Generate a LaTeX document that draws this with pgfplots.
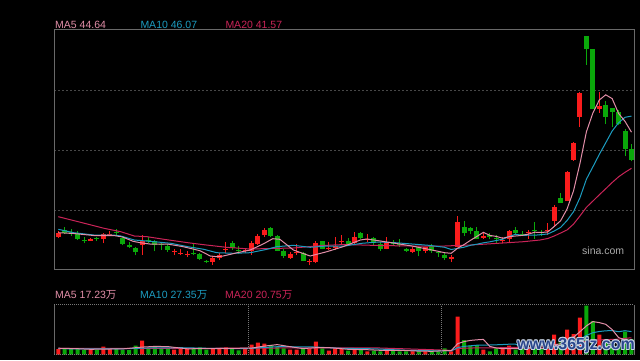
\documentclass[border=0pt]{standalone}
\usepackage{pgfplots}
\pgfplotsset{compat=1.18}
\usepackage{pgfplotstable}
\usepackage{fontspec}
\setmainfont{Liberation Sans}
\newfontfamily\cjk{Noto Sans CJK SC}
\definecolor{cred}{RGB}{250,28,28}
\definecolor{cgreen}{RGB}{10,168,10}
\definecolor{mafive}{RGB}{226,142,168}
\definecolor{maten}{RGB}{28,156,192}
\definecolor{matwenty}{RGB}{202,36,88}
\definecolor{framec}{RGB}{105,105,105}
\definecolor{gridc}{RGB}{72,72,72}
\definecolor{dotc}{RGB}{120,120,120}
\definecolor{wmblue}{RGB}{42,70,140}
\definecolor{wmlight}{RGB}{200,212,228}

% candles: i open high low close (pixel heights above the frame bottom)
\pgfplotstableread{
i o h l c
0 32.3 38 31 36.3
5 28.5 31.5 28 30.5
7 30.3 36.3 25.7 35
8 34.3 37.7 33 35.3
13 23.7 33.7 14.3 28.3
18 17.7 20.3 13.7 18.3
19 15.7 19.7 13.7 16.3
20 14.3 17.7 11.7 15
24 7 12.7 4.3 11.3
25 10.7 15.7 9 13.7
26 19.3 27 16.3 20
29 18 21 15.7 19
30 18 27.7 14 26
31 25.3 35 24 33
32 33.7 41 32.3 39
36 11 16.7 10.3 15.3
37 15.7 25 14.3 17.5
39 7.7 10.3 3.7 8.3
40 7 27.7 5.7 26.3
42 20 26.7 19 21
43 21 31.7 19 23
44 27.3 34.3 23.7 28
46 25.7 37 24.3 32.3
48 29 35 27 30.3
51 20.3 31.7 19.7 26.3
55 17.3 21.7 15.7 19.7
57 18.3 22.3 15.7 21.7
61 10.3 13.7 7 12.3
62 22.3 53 21.7 47
66 31.3 37 30.3 32.7
69 28 32.3 25.7 28.7
70 30.3 39 26.3 37.7
73 36.7 39 30.3 37.3
76 37.7 45.7 34 39.3
77 48.3 63.7 42.3 61.7
79 67.7 98.3 67.7 97.3
80 109 127 108.3 126.3
81 152.3 177.3 142.3 176.3
84 160.3 177.3 156.3 163
}\redK
\pgfplotstableread{
i o h l c
1 39 41.7 35.5 36.3
2 37 40.5 33 35
3 35 38.3 29 30.3
4 29.3 31.7 25.7 28.7
6 31 32.3 28.3 30.3
9 37 40.3 33.7 36.3
10 31 32.3 23.7 25
11 24.3 27 21 21.7
12 21 21.7 13.7 17
14 28.7 32.3 25.7 28
15 28.3 29 17.7 24.3
16 24.7 25.7 19 24
17 23.3 25 17 19.3
21 16.3 25.7 13.7 15.7
22 15 16.3 9 10.3
23 7.7 9 5.7 6.7
27 26 27.7 19 21.3
28 19.3 23 15 18.7
33 41 42 32 33
34 33 34 18 18.3
35 18.3 19.7 11 13
38 16 17 7.7 8.3
41 27.7 28.3 19.7 20.3
45 27.7 31 23.7 25
47 36.3 37 30.3 31
49 31 32.3 24.3 25.7
50 25.3 27 18.3 19.7
52 26 29 23 24.7
53 25.3 30.3 22.3 24.3
54 20.3 21.3 17.3 18.3
56 22.3 22.3 12.7 18.3
58 22.7 25 16.3 17.7
59 16.7 18.3 12.3 16
60 14.3 16.3 9 11
63 42.3 47.7 33 35.7
64 41 42.3 35 37.7
65 37.7 41.7 29.7 30.3
67 34.3 36.3 29.7 31.7
68 31.3 33.7 25.7 30.7
71 39 41.7 35 36.3
72 35.3 38.3 33 34.7
74 38.7 47 30.3 38
75 36.7 39 33 36
78 71 75.7 66.3 66.3
82 233 233 204.3 219.7
83 220.3 220.3 159.7 159.7
85 164 167.7 145 152.3
86 161 161 141.7 157.3
87 157 159 143.7 145
88 138.3 139.7 113 120.3
89 119.7 125 107.7 109
}\greenK

\pgfplotstableread{
i y
0 36.3
2.4 35.5
5.5 33.5
8.6 33.5
10 32
11.6 27.7
12.7 26.3
14.2 25
16.9 25
19.4 22.3
22 18.3
23.6 13
24.6 12.3
25.6 13
27.8 16.3
29.8 19
31.8 25
33.3 30.3
34.4 29.7
36.5 19
39.1 13
41.7 17.3
44.2 22.3
46.9 29
47.9 30
49.7 28.3
52.3 25.7
54.9 23
57.5 19.7
60 16.3
61 15.7
62 20.8
63 24.4
64 28.7
65 32.6
66 36.7
67 33.6
68 32.6
69 30.8
70 32.3
71 33
72 33.6
73 34.9
74 36.8
75 36.5
76 37.1
77 42.5
78 48.3
79 60.1
80 78.2
81 105.6
82 137.2
83 155.9
84 169
85 174.2
86 170.4
87 155.5
88 147.6
89 136.8
}\maFive
\pgfplotstableread{
i y
0 39.7
2.4 36.3
5.5 34
8.6 34
9.7 33
11.8 29
14.9 27.3
17.5 25.7
20.1 22.3
22.6 19.7
24.6 16.3
27.2 15.7
29.8 16.3
32.4 19.7
33.9 22.3
36.5 23.7
39.1 21.7
41.7 23
44.5 23
47.1 25.7
49.7 27
52.3 26.3
54.9 25
57.5 23.7
60 21.7
61 19.5
62 20.6
63 21.8
64 23.7
65 24.8
66 26.2
67 27.2
68 28.5
69 29.8
70 32.4
71 34.8
72 33.6
73 33.8
74 33.8
75 34.4
76 35
77 38
78 41.6
79 48.5
80 57.3
81 71.3
82 89.8
83 102.1
84 114.6
85 126.2
86 138
87 146.3
88 151.7
89 152.9
}\maTen
\pgfplotstableread{
i y
0 52.3
4.5 45
7.1 40.7
9.7 37.3
11.8 33
13.8 32.3
16.4 29.7
20.1 26.3
22.6 24.3
26.1 21.7
29.8 20
33 20.5
36.5 21
41 23.5
44.5 24.5
49.7 23.5
54.9 23
60 23
64 24
67.8 25.5
72.2 27.3
74.8 29
76 30.5
77 33
78 36
79 39.1
80 44.9
81 53.1
82 61.7
83 67.9
84 74.2
85 80.3
86 86.5
87 92.2
88 96.7
89 100.7
}\maTwenty

% volume bars: i height
\pgfplotstableread{
i v
0 5.7
5 5
7 8
8 5.7
13 14
18 5
19 6.3
20 5.7
24 6.3
25 6.3
26 7.3
29 5.7
30 10
31 12
32 11
36 5
37 5
39 5.7
40 13
42 4
43 6.3
44 6.3
46 6.3
48 3.3
51 6.3
55 3.3
57 3.3
61 3.3
62 38
66 5
69 6.3
70 9
73 7.3
76 9
77 20
79 25
80 20.7
81 37
84 20
}\redV
\pgfplotstableread{
i v
1 5.7
2 5.7
3 5.7
4 4.7
6 5
9 5.7
10 4.7
11 4.7
12 9
14 5.7
15 8.3
16 6.3
17 6.3
21 6.3
22 7.3
23 5
27 5.7
28 4.3
33 9.7
34 8
35 6.3
38 6.3
41 6.3
45 4
47 5
49 4
50 3.3
52 5
53 3.3
54 3.3
56 3.3
58 4
59 3.3
60 6.3
63 14.7
64 9
65 9.7
67 3.3
68 6.3
71 5
72 5.7
74 7.3
75 5.7
78 12.3
82 49
83 33.7
85 12.3
86 10.7
87 9
88 23
89 15.7
}\greenV
\pgfplotstableread{
i y
0 6.5
3 6
5 5.4
8 5.7
10 5.8
13 7.6
15 8.3
17 8.1
20 5.9
25 6.2
30 6.6
32 8.6
34 10.1
36 8
38 6.1
40 7
42 7.1
45 5.4
48 5
50 4.4
53 4.4
56 3.6
58 3.4
60 4
61 4
62 11
63 13.1
64 14.3
65 14.9
66 15.3
67 8.3
68 6.7
69 6.1
70 6
71 6
72 6.5
73 6.7
74 6.9
75 6.2
76 7
77 9.9
78 10.9
79 14.4
80 17.4
81 23
82 28.8
83 33.1
84 32.1
85 30.4
86 25.1
87 17.1
88 15
89 14.1
}\vmaFive
\pgfplotstableread{
i y
0 6
9 5.7
14 6.75
19 7
24 6.3
29 6
34 8
39 7.9
44 6.4
49 5.9
54 4.4
59 3.8
60 4.1
61 3.8
62 7.1
63 8.3
64 8.9
65 9.5
66 9.7
67 9.7
68 9.9
69 10.2
70 10.5
71 10.6
72 7.4
73 6.7
74 6.5
75 6.1
76 6.5
77 8.2
78 8.8
79 10.6
80 11.8
81 15
82 19.3
83 22
84 23.2
85 23.9
86 24.1
87 23
88 24
89 23.1
}\vmaTen
\pgfplotstableread{
i y
0 6.3
19 6.4
29 6.5
39 6.9
49 6.9
59 4.8
60 4.5
61 4.4
62 6.1
63 6.5
64 6.6
65 6.9
66 6.8
67 6.75
68 6.9
69 7
70 7.3
71 7.2
72 7.3
73 7.5
74 7.7
75 7.8
76 8.1
77 8.9
78 9.3
79 10.4
80 11.1
81 12.8
82 13.4
83 14.3
84 14.9
85 15
86 15.3
87 15.6
88 16.4
89 16.9
}\vmaTwenty

\begin{document}
\begin{tikzpicture}[x=1pt,y=1pt]
\fill[black] (0,0) rectangle (640,360);
\path[use as bounding box] (0,0) rectangle (640,360);

% ---------------- price panel ----------------
\begin{axis}[
  at={(54pt,91pt)}, anchor=south west,
  width=580pt, height=240pt, scale only axis,
  xmin=-0.668, xmax=89.39, ymin=0, ymax=240,
  axis line style={draw=framec, line width=1pt},
  xtick=\empty, ytick={59,119,179}, yticklabels={},
  major tick length=0pt,
  ymajorgrids, grid style={draw=gridc, line width=1pt, dash pattern=on 2pt off 2pt},
  clip=true,
]
% wicks
\addplot[forget plot, draw=none, mark=none, error bars/.cd, y dir=plus, y explicit, error mark=none,
  error bar style={draw=cred, line width=1pt}]
  table[x=i, y=l, y error plus expr=\thisrow{h}-\thisrow{l}] {\redK};
\addplot[forget plot, draw=none, mark=none, error bars/.cd, y dir=plus, y explicit, error mark=none,
  error bar style={draw=cgreen, line width=1pt}]
  table[x=i, y=l, y error plus expr=\thisrow{h}-\thisrow{l}] {\greenK};
% bodies
\addplot[forget plot, draw=none, mark=none, error bars/.cd, y dir=plus, y explicit, error mark=none,
  error bar style={draw=cred, line width=5pt}]
  table[x=i, y=o, y error plus expr=\thisrow{c}-\thisrow{o}] {\redK};
\addplot[forget plot, draw=none, mark=none, error bars/.cd, y dir=plus, y explicit, error mark=none,
  error bar style={draw=cgreen, line width=5pt}]
  table[x=i, y=c, y error plus expr=\thisrow{o}-\thisrow{c}] {\greenK};
% moving averages
\addplot[matwenty, line width=1pt, mark=none] table[x=i, y=y] {\maTwenty};
\addplot[maten, line width=1pt, mark=none] table[x=i, y=y] {\maTen};
\addplot[mafive, line width=1pt, mark=none] table[x=i, y=y] {\maFive};
\end{axis}

% ---------------- volume panel ----------------
\begin{axis}[
  at={(54pt,5.3pt)}, anchor=south west,
  width=580pt, height=50pt, scale only axis,
  xmin=-0.668, xmax=89.39, ymin=0, ymax=50,
  axis line style={draw=none},
  xtick=\empty, ytick=\empty,
  clip=false,
]
\addplot[ybar, bar width=4pt, bar shift=0pt, fill=cred, draw=none] table[x=i, y=v] {\redV};
\addplot[ybar, bar width=4pt, bar shift=0pt, fill=cgreen, draw=none] table[x=i, y=v] {\greenV};
\addplot[matwenty, line width=1pt, mark=none] table[x=i, y=y] {\vmaTwenty};
\addplot[maten, line width=1pt, mark=none] table[x=i, y=y] {\vmaTen};
\addplot[mafive, line width=1pt, mark=none] table[x=i, y=y] {\vmaFive};
\draw[framec, line width=1pt] (rel axis cs:0,0) -- (rel axis cs:0,1);
\draw[framec, line width=1pt] (rel axis cs:1,0) -- (rel axis cs:1,1);
\draw[dotc, line width=1pt, dash pattern=on 1pt off 1pt] (rel axis cs:0,1) -- (rel axis cs:1,1);
\draw[dotc, line width=1pt, dash pattern=on 1pt off 1pt] (rel axis cs:0,0) -- (rel axis cs:1,0);
\draw[dotc, line width=1pt, dash pattern=on 1pt off 1pt] (axis cs:29.5,0) -- (axis cs:29.5,50);
\draw[dotc, line width=1pt, dash pattern=on 1pt off 1pt] (axis cs:59.47,0) -- (axis cs:59.47,50);
\end{axis}

% ---------------- labels ----------------
\begin{scope}[every node/.style={anchor=base west, inner sep=0pt, font=\fontsize{10.5}{12}\selectfont}]
\node[text=mafive] at (55,332) {MA5 44.64};
\node[text=maten] at (140.3,332) {MA10 46.07};
\node[text=matwenty] at (225.3,332) {MA20 41.57};
\node[text=mafive] at (55,62) {MA5 17.23{\cjk 万}};
\node[text=maten] at (140,62) {MA10 27.35{\cjk 万}};
\node[text=matwenty] at (225,62) {MA20 20.75{\cjk 万}};
\node[text={rgb,255:red,170;green,170;blue,170}] at (582,106) {sina.com};
\end{scope}

% watermark
\begin{scope}[every node/.style={anchor=base west, inner sep=0pt, font=\fontsize{16}{18}\selectfont\bfseries}]
\foreach \dx/\dy in {-0.8/0,0.8/0,0/-0.8,0/0.8,-0.6/-0.6,0.6/0.6,-0.6/0.6,0.6/-0.6}
  \node[text=wmlight] at (517+\dx,10.5+\dy) {www.365jz.com};
\node[text=wmblue] at (517,10.5) {www.365jz.com};
\end{scope}
\end{tikzpicture}
\end{document}
